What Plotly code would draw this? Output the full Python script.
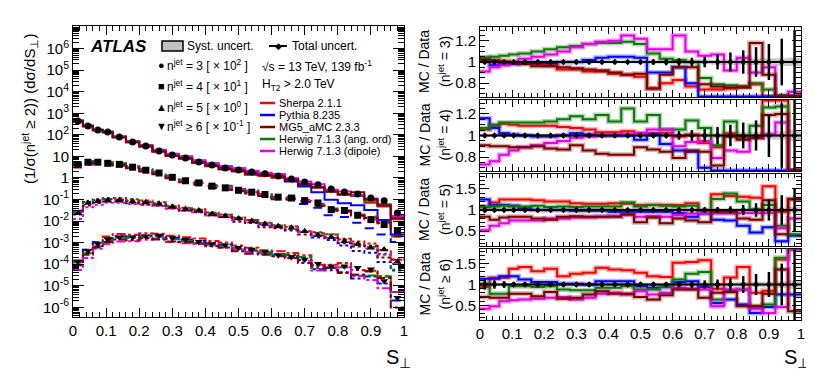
import plotly.graph_objects as go

W, H = 814, 386
FONT = "Liberation Sans, Arial, sans-serif"

# S_perp binning (first four bins are 0.03 wide, the rest 0.04)
edges = [0.0, 0.03, 0.06, 0.09, 0.12, 0.16, 0.20, 0.24, 0.28, 0.32, 0.36, 0.40, 0.44,
         0.48, 0.52, 0.56, 0.60, 0.64, 0.68, 0.72, 0.76, 0.80, 0.84, 0.88, 0.92, 0.96, 1.00]

# unfolded data (1/sigma) dsigma/dS_perp, before the display scale factors
data_n3 = [4.37, 2.57, 1.66, 1.35, 0.79, 0.468, 0.302, 0.178, 0.115, 0.0851, 0.0550, 0.0398, 0.0288,
           0.0234, 0.0191, 0.0155, 0.0123, 0.0089, 0.00646, 0.00479, 0.00309, 0.00224, 0.00182,
           0.00117, 0.00087, 0.00024]
data_n4 = [0.417, 0.537, 0.537, 0.479, 0.427, 0.316, 0.229, 0.170, 0.107, 0.0741, 0.0589, 0.0417,
           0.0347, 0.0269, 0.0219, 0.0170, 0.0129, 0.0117, 0.00891, 0.00692, 0.00339, 0.00309,
           0.00186, 0.00117, 0.00069, 0.00036]
data_n5 = [0.0240, 0.0692, 0.0832, 0.0933, 0.0933, 0.0832, 0.0741, 0.0631, 0.0457, 0.0363, 0.0309,
           0.0214, 0.0170, 0.0132, 0.0100, 0.00741, 0.00575, 0.00490, 0.00339, 0.00224, 0.00178,
           0.00117, 0.00087, 0.00058, 0.00048, 0.00013]
data_n6 = [0.00129, 0.00407, 0.00871, 0.0138, 0.0178, 0.0178, 0.0200, 0.0214, 0.0166, 0.0138, 0.0110,
           0.00871, 0.00759, 0.00575, 0.00479, 0.00372, 0.00263, 0.00214, 0.00166, 0.00105, 0.00081,
           0.00081, 0.00068, 0.00058, 0.000166, 0.0000275]
scales = [100, 10, 1, 0.1]

# MC / Data ratios
sherpa_n3 = [1.02, 1.02, 1.01, 1.00, 0.99, 0.98, 0.97, 0.93, 0.93, 0.91, 0.91, 0.89, 0.88, 0.86, 0.75,
             0.80, 0.83, 0.77, 0.74, 0.74, 0.75, 0.77, 0.79, 0.60, 0.55, 0.50]
pythia_n3 = [1.04, 0.97, 0.98, 0.98, 0.99, 0.99, 0.99, 1.00, 1.00, 1.02, 1.04, 1.05, 1.05, 1.04, 0.90,
             0.90, 0.95, 0.80, 0.62, 0.45, 0.32, 0.30, 0.30, 0.28, 0.13, 0.10]
mg5_n3 = [1.02, 1.01, 1.00, 0.99, 0.98, 0.96, 0.96, 0.95, 0.94, 0.93, 0.92, 0.90, 0.88, 0.89, 0.75,
          0.88, 0.95, 0.95, 0.79, 0.77, 0.76, 0.76, 1.18, 0.88, 0.60, 0.55]
hwang_n3 = [1.04, 1.05, 1.06, 1.07, 1.08, 1.10, 1.12, 1.14, 1.15, 1.17, 1.18, 1.18, 1.19, 1.17, 1.08,
            1.03, 1.02, 1.00, 0.85, 0.79, 0.78, 0.77, 0.80, 0.74, 0.69, 0.62]
hwdip_n3 = [0.91, 0.95, 0.97, 0.99, 1.03, 1.05, 1.07, 1.10, 1.14, 1.17, 1.19, 1.20, 1.25, 1.22, 1.12,
            1.12, 1.25, 1.10, 1.06, 1.07, 0.92, 1.04, 0.90, 0.95, 0.60, 0.72]

sherpa_n4 = [1.055, 1.09, 1.11, 1.10, 1.09, 1.09, 1.09, 1.08, 1.07, 1.055, 1.03, 1.03, 1.04, 1.02, 1.02,
             1.02, 0.99, 1.01, 0.93, 0.89, 1.02, 0.98, 0.98, 1.40, 1.40, 0.55]
pythia_n4 = [1.16, 1.07, 1.02, 1.01, 1.00, 0.99, 0.99, 1.00, 1.02, 1.01, 1.00, 1.00, 1.00, 0.96, 1.01,
             0.92, 0.86, 0.85, 0.70, 0.60, 0.55, 0.50, 0.45, 0.40, 0.35, 0.30]
mg5_n4 = [0.91, 0.90, 0.90, 0.89, 0.89, 0.90, 0.88, 0.87, 0.91, 0.86, 0.83, 0.82, 0.82, 0.89, 0.87,
          0.85, 0.79, 0.86, 0.85, 0.72, 0.99, 0.96, 0.98, 1.19, 1.20, 0.55]
hwang_n4 = [1.07, 1.10, 1.12, 1.12, 1.12, 1.12, 1.13, 1.15, 1.18, 1.15, 1.19, 1.13, 1.25, 1.13, 1.19,
            1.055, 1.055, 1.14, 1.07, 0.91, 1.13, 0.99, 1.09, 1.26, 1.27, 0.55]
hwdip_n4 = [0.73, 0.76, 0.82, 0.86, 0.89, 0.91, 0.93, 0.95, 0.98, 0.99, 1.00, 1.00, 1.01, 1.02, 1.055,
            1.055, 0.90, 0.94, 0.95, 0.79, 0.86, 0.85, 0.98, 1.01, 1.12, 0.55]

sherpa_n5 = [1.08, 1.18, 1.25, 1.25, 1.25, 1.23, 1.20, 1.20, 1.16, 1.15, 1.15, 1.16, 1.15, 1.12, 1.12,
             1.12, 1.12, 1.16, 1.00, 1.37, 1.33, 1.31, 1.29, 1.56, 0.96, 1.25]
pythia_n5 = [1.25, 1.12, 1.12, 1.10, 1.04, 1.00, 1.00, 1.00, 0.98, 0.98, 0.98, 0.96, 0.96, 0.96, 0.96,
             0.96, 0.93, 0.84, 0.92, 0.77, 0.75, 0.63, 0.47, 0.59, 0.26, 0.39]
mg5_n5 = [0.84, 0.77, 0.82, 0.84, 0.84, 0.80, 0.77, 0.84, 0.85, 0.84, 0.84, 0.84, 0.90, 0.71, 0.82,
          0.69, 0.80, 0.75, 0.71, 0.96, 0.96, 0.80, 0.77, 1.23, 0.43, 1.26]
hwang_n5 = [1.07, 1.08, 1.10, 1.08, 1.08, 1.10, 1.07, 1.08, 1.07, 1.08, 1.08, 1.08, 1.18, 1.08, 1.12,
            1.10, 1.08, 1.10, 0.96, 1.26, 1.39, 1.20, 1.02, 1.12, 0.63, 0.43]
hwdip_n5 = [0.52, 0.63, 0.69, 0.75, 0.75, 0.75, 0.80, 0.80, 0.82, 0.82, 0.84, 0.85, 0.88, 0.84, 0.85,
            0.84, 0.88, 0.92, 0.93, 0.92, 0.92, 0.93, 0.93, 0.93, 0.57, 0.80]

sherpa_n6 = [0.94, 1.16, 1.16, 1.38, 1.42, 1.32, 1.38, 1.20, 1.26, 1.28, 1.40, 1.36, 1.34, 1.28, 1.20,
             1.18, 1.52, 1.54, 1.58, 0.90, 1.17, 1.42, 0.80, 0.85, 1.60, 1.85]
pythia_n6 = [1.14, 1.14, 1.20, 1.20, 1.12, 1.06, 1.06, 1.02, 1.02, 1.00, 1.08, 1.08, 1.08, 0.96, 0.92,
             0.94, 1.06, 1.08, 0.94, 0.56, 0.64, 0.52, 0.32, 0.46, 0.76, 0.76]
mg5_n6 = [0.70, 0.68, 0.68, 0.78, 0.78, 0.72, 0.82, 0.66, 0.68, 0.76, 0.84, 0.78, 0.78, 0.70, 0.64,
          0.74, 0.88, 0.88, 0.68, 0.80, 0.82, 0.48, 0.48, 0.78, 1.36, 0.36]
hwang_n6 = [1.02, 0.78, 0.78, 0.96, 0.96, 0.94, 0.96, 0.88, 0.86, 0.86, 0.92, 0.92, 0.96, 0.88, 0.88,
            0.94, 1.12, 1.26, 1.30, 0.64, 0.84, 0.88, 0.48, 0.52, 1.64, 1.86]
hwdip_n6 = [0.42, 0.48, 0.60, 0.62, 0.64, 0.66, 0.68, 0.70, 0.64, 0.68, 0.78, 0.80, 0.76, 0.84, 0.76,
            0.80, 0.92, 0.90, 0.88, 0.48, 0.88, 0.88, 0.42, 0.32, 0.46, 1.85]

# relative total / systematic uncertainties of the data
tot_n3 = [0.02, 0.015, 0.012, 0.012, 0.012, 0.012, 0.012, 0.012, 0.012, 0.012, 0.013, 0.014, 0.015,
          0.02, 0.025, 0.03, 0.035, 0.04, 0.05, 0.07, 0.09, 0.11, 0.14, 0.17, 0.22, 0.30]
tot_n4 = [0.02, 0.015, 0.015, 0.015, 0.015, 0.015, 0.015, 0.015, 0.015, 0.015, 0.015, 0.015, 0.015,
          0.02, 0.02, 0.025, 0.04, 0.05, 0.06, 0.08, 0.10, 0.12, 0.14, 0.20, 0.30, 0.40]
tot_n5 = [0.06, 0.04, 0.03, 0.03, 0.03, 0.03, 0.03, 0.03, 0.03, 0.03, 0.03, 0.03, 0.03, 0.03, 0.04,
          0.04, 0.05, 0.05, 0.06, 0.07, 0.09, 0.12, 0.16, 0.25, 0.35, 0.50]
tot_n6 = [0.12, 0.10, 0.08, 0.06, 0.05, 0.05, 0.05, 0.05, 0.05, 0.05, 0.05, 0.05, 0.05, 0.05, 0.05,
          0.06, 0.07, 0.08, 0.10, 0.12, 0.15, 0.20, 0.25, 0.30, 0.50, 1.00]
syst_n3 = [0.015, 0.012, 0.01, 0.01, 0.01, 0.01, 0.01, 0.01, 0.01, 0.01, 0.01, 0.01, 0.012, 0.015,
           0.015, 0.018, 0.02, 0.02, 0.022, 0.025, 0.025, 0.03, 0.03, 0.03, 0.035, 0.04]
syst_n4 = [0.015, 0.012, 0.012, 0.012, 0.012, 0.012, 0.012, 0.012, 0.012, 0.012, 0.012, 0.012, 0.012,
           0.015, 0.015, 0.018, 0.02, 0.02, 0.022, 0.025, 0.025, 0.03, 0.03, 0.035, 0.04, 0.05]
syst_n5 = [0.04, 0.03, 0.025, 0.025, 0.025, 0.025, 0.025, 0.025, 0.025, 0.025, 0.025, 0.025, 0.025,
           0.025, 0.03, 0.03, 0.03, 0.03, 0.035, 0.04, 0.04, 0.045, 0.05, 0.05, 0.06, 0.07]
syst_n6 = [0.06, 0.05, 0.04, 0.04, 0.035, 0.035, 0.035, 0.035, 0.035, 0.035, 0.035, 0.035, 0.035,
           0.035, 0.035, 0.04, 0.04, 0.045, 0.05, 0.05, 0.05, 0.06, 0.06, 0.07, 0.08, 0.10]

generators = ["Sherpa 2.1.1", "Pythia 8.235", "MG5_aMC 2.3.3", "Herwig 7.1.3 (ang. ord)",
              "Herwig 7.1.3 (dipole)"]
colors = ["#ff0000", "#0000ff", "#780000", "#0a780a", "#e600e6"]
shadows = ["rgba(255,0,0,0.3)", "rgba(0,0,255,0.3)", "rgba(120,0,0,0.3)", "rgba(10,120,10,0.3)",
           "rgba(230,0,230,0.3)"]
draw_order = [0, 1, 3, 4, 2]

panels = [
    (data_n3, [sherpa_n3, pythia_n3, mg5_n3, hwang_n3, hwdip_n3], tot_n3, syst_n3, "= 3", (0.67, 1.33)),
    (data_n4, [sherpa_n4, pythia_n4, mg5_n4, hwang_n4, hwdip_n4], tot_n4, syst_n4, "= 4", (0.67, 1.33)),
    (data_n5, [sherpa_n5, pythia_n5, mg5_n5, hwang_n5, hwdip_n5], tot_n5, syst_n5, "= 5", (0.15, 1.85)),
    (data_n6, [sherpa_n6, pythia_n6, mg5_n6, hwang_n6, hwdip_n6], tot_n6, syst_n6, "≥ 6", (0.15, 1.85)),
]
dashes = ["solid", "dash", "dot", "dashdot"]
symbols = ["circle", "square", "triangle-up", "triangle-down"]

centers = [(a + b) / 2 for a, b in zip(edges[:-1], edges[1:])]


def step(vals):
    return list(edges), list(vals) + [vals[-1]]


fig = go.Figure()

# ---- left: distributions ----
for i, (data, ratios, tot, syst, lab, rng) in enumerate(panels):
    sc = scales[i]
    for g in draw_order:
        x, y = step([d * sc * r for d, r in zip(data, ratios[g])])
        fig.add_trace(go.Scatter(x=x, y=y, mode="lines", xaxis="x", yaxis="y",
                                 line=dict(color=colors[g], width=2, dash=dashes[i], shape="hv")))
    fig.add_trace(go.Scatter(x=centers, y=[d * sc for d in data], mode="markers", xaxis="x", yaxis="y",
                             marker=dict(symbol=symbols[i], size=7, color="black")))

# ---- right: ratio panels ----
for i, (data, ratios, tot, syst, lab, rng) in enumerate(panels):
    xa, ya = f"x{i + 2}", f"y{i + 2}"
    lo, hi = rng[0] + 0.004, rng[1] - 0.004
    bx, by_up, by_dn = [], [], []
    for k in range(len(syst)):
        bx += [edges[k], edges[k + 1]]
        by_up += [1 + syst[k]] * 2
        by_dn += [1 - syst[k]] * 2
    fig.add_trace(go.Scatter(x=bx + bx[::-1], y=by_up + by_dn[::-1], fill="toself", mode="lines",
                             fillcolor="#c8c8c8", line=dict(width=0), xaxis=xa, yaxis=ya))
    for g in draw_order:
        vals = [min(max(r, lo), hi) for r in ratios[g]]
        x, y = step(vals)
        fig.add_trace(go.Scatter(x=x, y=y, mode="lines", xaxis=xa, yaxis=ya,
                                 line=dict(color=shadows[g], width=5, shape="hv")))
        fig.add_trace(go.Scatter(x=x, y=y, mode="lines", xaxis=xa, yaxis=ya,
                                 line=dict(color=colors[g], width=2, shape="hv")))
    fig.add_trace(go.Scatter(x=[0, 1], y=[1, 1], mode="lines", xaxis=xa, yaxis=ya,
                             line=dict(color="black", width=2)))
    fig.add_trace(go.Scatter(x=centers, y=[1] * len(centers), mode="markers", xaxis=xa, yaxis=ya,
                             marker=dict(symbol="diamond", size=5, color="black"),
                             error_y=dict(type="data", array=tot, color="black", thickness=2.5, width=0)))

# ---- axes ----
xt = [0, 0.1, 0.2, 0.3, 0.4, 0.5, 0.6, 0.7, 0.8, 0.9, 1.0]
xtt = ["0", "0.1", "0.2", "0.3", "0.4", "0.5", "0.6", "0.7", "0.8", "0.9", "1"]
axis_common = dict(showline=True, linecolor="black", linewidth=1, mirror="allticks", ticks="inside",
                   tickcolor="black", tickwidth=1, showgrid=False, zeroline=False, automargin=False,
                   tickfont=dict(size=15, color="black"))

x_left = [65 / W, 396 / W]
x_right = [472 / W, 793 / W]
layout_axes = {}
layout_axes["xaxis"] = dict(axis_common, domain=x_left, range=[0, 1], tickvals=xt, ticktext=xtt,
                            ticklen=9, anchor="y",
                            minor=dict(ticks="inside", ticklen=5, dtick=0.02, tickcolor="black"))
ytv = [10.0 ** k for k in range(-6, 7)]
ytt = [f"10<sup>{k}</sup>" if k not in (0, 1) else ("1" if k == 0 else "10") for k in range(-6, 7)]
layout_axes["yaxis"] = dict(axis_common, domain=[1 - 309 / H, 1 - 18 / H], type="log",
                            range=[-6.45, 7.05], tickvals=ytv, ticktext=ytt, ticklen=11, anchor="x",
                            minor=dict(ticks="inside", ticklen=6, dtick="D1", tickcolor="black"))

panel_px = [(19, 89), (92, 163), (166, 238), (241, 312)]
for i, (data, ratios, tot, syst, lab, rng) in enumerate(panels):
    n = i + 2
    top, bot = panel_px[i]
    layout_axes[f"xaxis{n}"] = dict(axis_common, domain=x_right, range=[0, 1], tickvals=xt,
                                    ticktext=xtt, ticklen=7, anchor=f"y{n}", showticklabels=(i == 3),
                                    minor=dict(ticks="inside", ticklen=4, dtick=0.02, tickcolor="black"))
    if rng[1] < 1.5:
        tv, tt, mdt = [0.8, 1.0, 1.2], ["0.8", "1", "1.2"], 0.05
    else:
        tv, tt, mdt = [0.5, 1.0, 1.5], ["0.5", "1", "1.5"], 0.1
    layout_axes[f"yaxis{n}"] = dict(axis_common, domain=[1 - bot / H, 1 - top / H], range=list(rng),
                                    tickvals=tv, ticktext=tt, ticklen=9, anchor=f"x{n}",
                                    minor=dict(ticks="inside", ticklen=5, dtick=mdt, tickcolor="black"))

# ---- text and legend ----
ann = []
shapes = []


def text(x, y, s, size=12, xanchor="left", angle=0):
    ann.append(dict(x=x / W, y=1 - y / H, xref="paper", yref="paper", text=s, showarrow=False,
                    xanchor=xanchor, yanchor="middle", textangle=angle,
                    font=dict(size=size, color="black", family=FONT)))


text(21, 101, "(1/σ(n<sup>jet</sup> ≥ 2)) (dσ/dS<sub>⊥</sub>)", size=15, xanchor="center", angle=-90)
text(390, 350, "S<sub>⊥</sub>", size=20, xanchor="center")
text(788, 350, "S<sub>⊥</sub>", size=20, xanchor="center")
for i, (data, ratios, tot, syst, lab, rng) in enumerate(panels):
    top, bot = panel_px[i]
    yc = (top + bot) / 2
    text(416, yc, "MC / Data", size=14, xanchor="center", angle=-90)
    text(436, yc, f"(n<sup>jet</sup> {lab})", size=14, xanchor="center", angle=-90)

text(80, 38, "<b><i>ATLAS</i></b>", size=17)
shapes.append(dict(type="rect", xref="paper", yref="paper", x0=154 / W, x1=175 / W,
                   y0=1 - 43 / H, y1=1 - 33 / H, fillcolor="#c0c0c0", line=dict(color="black", width=1.5)))
text(177, 38, "Syst. uncert.", size=12)
shapes.append(dict(type="line", xref="paper", yref="paper", x0=261 / W, x1=279 / W,
                   y0=1 - 38 / H, y1=1 - 38 / H, line=dict(color="black", width=2)))
text(270, 38, "◆", size=9, xanchor="center")
text(282, 38, "Total uncert.", size=12)

marker_chars = ["●", "■", "▲", "▼"]
legend_y = [57, 78, 99, 118]
powers = ["10<sup>2</sup>", "10<sup>1</sup>", "10<sup>0</sup>", "10<sup>-1</sup>"]
for i, (data, ratios, tot, syst, lab, rng) in enumerate(panels):
    text(153, legend_y[i], marker_chars[i], size=11, xanchor="center")
    text(157, legend_y[i], f"n<sup>jet</sup> {lab} [ × {powers[i]} ]", size=12)

text(252, 58, "√s = 13 TeV, 139 fb<sup>-1</sup>", size=12)
text(252, 77, "H<sub>T2</sub> > 2.0 TeV", size=12)
mc_leg_y = [95, 107, 119, 131, 143]
for g, name in enumerate(generators):
    yy = mc_leg_y[g]
    shapes.append(dict(type="line", xref="paper", yref="paper", x0=252 / W, x1=267 / W,
                       y0=1 - yy / H, y1=1 - yy / H, line=dict(color=colors[g], width=2.5)))
    text(269, yy, name, size=11)

fig.update_layout(
    width=W, height=H, margin=dict(l=0, r=0, t=0, b=0),
    paper_bgcolor="white", plot_bgcolor="white",
    font=dict(family=FONT, color="black"),
    showlegend=False, annotations=ann, shapes=shapes,
    **layout_axes,
)

fig.write_html("out.html")
